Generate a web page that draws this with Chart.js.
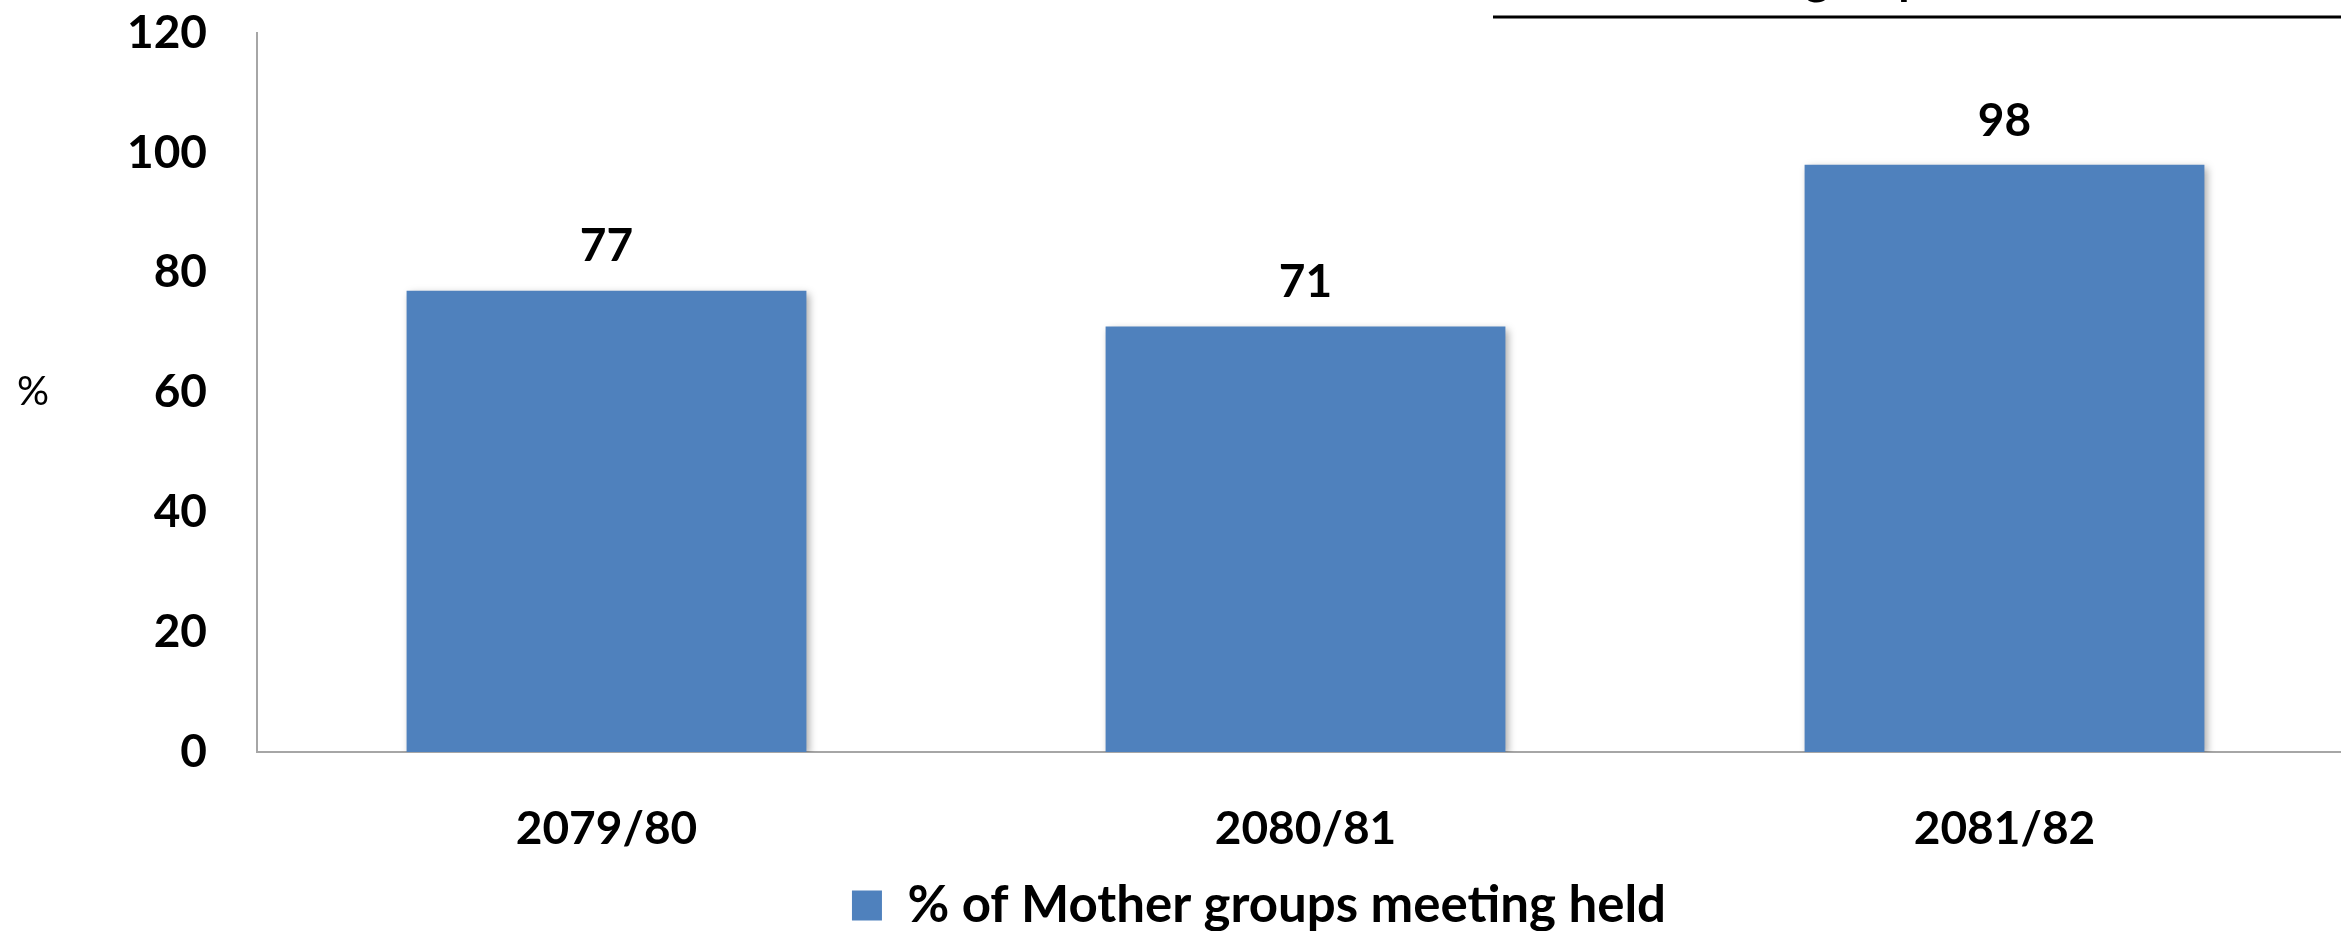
<!DOCTYPE html>
<html>
<head>
<meta charset="utf-8">
<script src="https://cdn.jsdelivr.net/npm/chart.js@4.4.1/dist/chart.umd.min.js"></script>
<style>
    html, body { margin: 0; padding: 0; background: #fff; overflow: hidden; }
    #wrap { width: 2341px; height: 931px; overflow: hidden; }
</style>
</head>
<body>
<div id="wrap"><canvas id="meetingChart" width="2400" height="931"></canvas></div>
<script>
// Chart data
const years = ['2079/80', '2080/81', '2081/82'];
const meetingPct = [77, 71, 98];
const yTicks = [0, 20, 40, 60, 80, 100, 120];
const seriesName = '% of Mother groups meeting held';

const barBlue = '#4F81BD';
const axisGray = '#A6A6A6';
const boldFont = { family: 'Lato', size: 46, weight: 'bold' };

// Soft shadow behind bars, like the office chart
const barShadow = {
    id: 'barShadow',
    beforeDatasetDraw(chart) {
        const c = chart.ctx;
        c.save();
        c.shadowColor = 'rgba(0, 0, 0, 0.35)';
        c.shadowBlur = 8;
        c.shadowOffsetX = 3;
        c.shadowOffsetY = 3;
    },
    afterDatasetDraw(chart) {
        chart.ctx.restore();
    }
};

// Legend in the original is centred on the wider (cropped) chart, nudge it over
const legendShift = {
    id: 'legendShift',
    afterLayout(chart) {
        const lg = chart.legend;
        lg.left += 82;
        lg.right += 82;
        lg.top += 10;
        lg.bottom += 10;
    }
};

// Value labels above bars, "%" axis label and the cut-off heading at the top
const extras = {
    id: 'extras',
    afterDatasetsDraw(chart) {
        const c = chart.ctx;
        c.save();
        c.fillStyle = '#000';
        c.font = 'bold 46px Lato';
        c.textAlign = 'center';
        c.textBaseline = 'middle';
        chart.getDatasetMeta(0).data.forEach((bar, i) => {
            c.fillText(meetingPct[i], bar.x, bar.y - 44);
        });

        c.font = '40px Lato';
        c.fillText('%', 33, chart.scales.y.getPixelForValue(60));

        // heading sits mostly above the visible area, only descenders show
        c.font = 'bold 46px Lato';
        c.textAlign = 'left';
        c.textBaseline = 'alphabetic';
        c.fillText('groups', 1805, -6);

        c.strokeStyle = '#000';
        c.lineWidth = 3;
        c.beginPath();
        c.moveTo(1493, 17);
        c.lineTo(2400, 17);
        c.stroke();
        c.restore();
    }
};

const ctx = document.getElementById('meetingChart').getContext('2d');
const meetingChart = new Chart(ctx, {
    type: 'bar',
    data: {
        labels: years,
        datasets: [{
            label: seriesName,
            data: meetingPct,
            backgroundColor: barBlue,
            borderWidth: 0,
            barPercentage: 0.572,
            categoryPercentage: 1
        }]
    },
    options: {
        responsive: false,
        animation: false,
        layout: {
            padding: { top: 0, right: 46, bottom: 0, left: 0 }
        },
        plugins: {
            legend: {
                position: 'bottom',
                labels: {
                    color: '#000',
                    font: { family: 'Lato', size: 51, weight: 'bold' },
                    boxWidth: 30,
                    boxHeight: 30,
                    padding: 4
                }
            },
            tooltip: { enabled: false }
        },
        scales: {
            y: {
                min: 0,
                max: 120,
                afterBuildTicks: (scale) => {
                    scale.ticks = yTicks.map(v => ({ value: v }));
                },
                afterFit: (scale) => {
                    scale.width = 257;
                    scale.paddingTop = 33;
                    scale.paddingBottom = 0;
                },
                grid: { display: false, drawTicks: false },
                border: { color: axisGray, width: 2 },
                ticks: {
                    color: '#000',
                    font: boldFont,
                    padding: 50
                }
            },
            x: {
                afterFit: (scale) => {
                    scale.height = 114;
                },
                grid: { display: false, drawTicks: false },
                border: { color: axisGray, width: 2 },
                ticks: {
                    color: '#000',
                    font: boldFont,
                    padding: 50
                }
            }
        }
    },
    plugins: [barShadow, legendShift, extras]
});
</script>
</body>
</html>
